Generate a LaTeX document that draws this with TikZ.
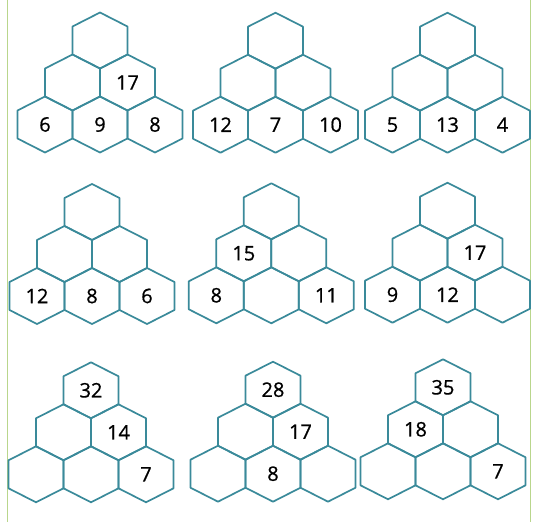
\documentclass[tikz,border=0pt]{standalone}
\usepackage{fontspec}
\setmainfont{Open Sans}
\newfontfamily\numfont{Open Sans}[FakeBold=0.7]
\definecolor{hexteal}{RGB}{58,138,154}
\definecolor{framegreen}{RGB}{185,214,140}
\tikzset{
  hexline/.style={draw=hexteal, line width=1.7pt, line join=round},
  num/.style={inner sep=0pt, font=\numfont\fontsize{20}{21}\selectfont, text=black},
  frameline/.style={draw=framegreen, line width=1.3pt}
}
\newcommand\hexcell[4]{%
  \draw[hexline] (#2,#3) +(0,-28) -- +(27.5,-14) -- +(27.5,14) -- +(0,28) -- +(-27.5,14) -- +(-27.5,-14) -- cycle;
  \node[num] (#1) at (#2,#3) {#4};}
\newcommand\pyr[9]{%
  \begin{scope}[shift={(#2,#3)}]
    \hexcell{#1t}{0}{-84}{#4}
    \hexcell{#1l}{-27.5}{-42}{#5}
    \hexcell{#1r}{27.5}{-42}{#6}
    \hexcell{#1a}{-55}{0}{#7}
    \hexcell{#1b}{0}{0}{#8}
    \hexcell{#1c}{55}{0}{#9}
  \end{scope}}
\begin{document}
\begin{tikzpicture}[x=1pt,y=-1pt]
\useasboundingbox (0,0) rectangle (542,522);
\fill[white] (0,0) rectangle (542,522);
\coordinate (fl1) at (7.5,0);
\coordinate (fl2) at (7.5,522);
\coordinate (fr1) at (530.5,0);
\coordinate (fr2) at (530.5,522);
\draw[frameline] (fl1) -- (fl2);
\draw[frameline] (fr1) -- (fr2);
\pyr{pa}{100}{124.5}{}{}{17}{6}{9}{8}
\pyr{pb}{275.5}{124.7}{}{}{}{12}{7}{10}
\pyr{pc}{447.5}{124.7}{}{}{}{5}{13}{4}
\pyr{pd}{92}{296}{}{}{}{12}{8}{6}
\pyr{pe}{271.3}{295.3}{}{15}{}{8}{}{11}
\pyr{pf}{447.5}{294.7}{}{}{17}{9}{12}{}
\pyr{pg}{91}{474.3}{32}{}{14}{}{}{7}
\pyr{ph}{273}{473.7}{28}{}{17}{}{8}{}
\pyr{pi}{443}{471.3}{35}{18}{}{}{}{7}
\end{tikzpicture}
\end{document}
